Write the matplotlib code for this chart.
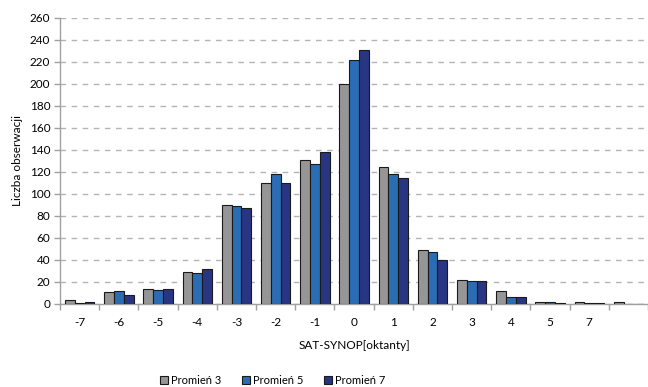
import numpy as np
import matplotlib.pyplot as plt

plt.rcParams['font.family'] = ['Lato', 'DejaVu Sans']

categories = ['-7', '-6', '-5', '-4', '-3', '-2', '-1', '0', '1', '2', '3', '4', '5', '7', '']
promien3 = [4, 11, 14, 29, 90, 110, 131, 200, 125, 49, 22, 12, 2, 2, 1.5]
promien5 = [1, 12, 13, 28, 89, 118, 127, 222, 118, 47, 21, 6, 2, 0.5, 0]
promien7 = [2, 8, 14, 32, 87, 110, 138, 231, 115, 40, 21, 6, 1, 0.5, 0]

series = [('Promień 3', promien3, '#969696'),
          ('Promień 5', promien5, '#2a6db5'),
          ('Promień 7', promien7, '#283583')]

fig = plt.figure(figsize=(6.48, 3.87), dpi=100)
ax = fig.add_axes([60 / 648, 83 / 387, 588 / 648, 286 / 387])

x = np.arange(len(categories))
w = 0.25
for k, (name, vals, col) in enumerate(series):
    ax.bar(x + (k - 1) * w, vals, w, color=col, edgecolor='#1a1a1a',
           linewidth=0.8, label=name, zorder=3)

ax.set_xlim(-0.5, len(categories) - 0.5)
ax.set_ylim(0, 260)
ax.set_yticks(np.arange(0, 261, 20))
ax.set_xticks(x)
ax.set_xticklabels(categories)
ax.set_xticks(np.arange(-0.5, len(categories), 1), minor=True)
ax.tick_params(axis='x', which='major', length=0, pad=9, labelsize=8.5)
ax.tick_params(axis='x', which='minor', length=4, color='#a0a0a0', width=1)
ax.tick_params(axis='y', length=4, color='#a0a0a0', width=1, labelsize=8.5, pad=3)

ax.yaxis.grid(True, linestyle=(0, (4, 4)), color='#b4b4b4', linewidth=1, zorder=0)
for s in ['top', 'right']:
    ax.spines[s].set_visible(False)
for s in ['left', 'bottom']:
    ax.spines[s].set_color('#a0a0a0')
    ax.spines[s].set_linewidth(1)

ax.set_ylabel('Liczba obserwacji', fontsize=8.5, labelpad=5)
ax.set_xlabel('SAT-SYNOP[oktanty]', fontsize=8.5, labelpad=9)

leg = fig.legend(loc='center', bbox_to_anchor=(0.421, 0.018), ncol=3, frameon=False,
                 fontsize=8, handlelength=0.75, handleheight=0.75, handletextpad=0.3,
                 columnspacing=1.8)

fig.savefig('out.png', dpi=100)
